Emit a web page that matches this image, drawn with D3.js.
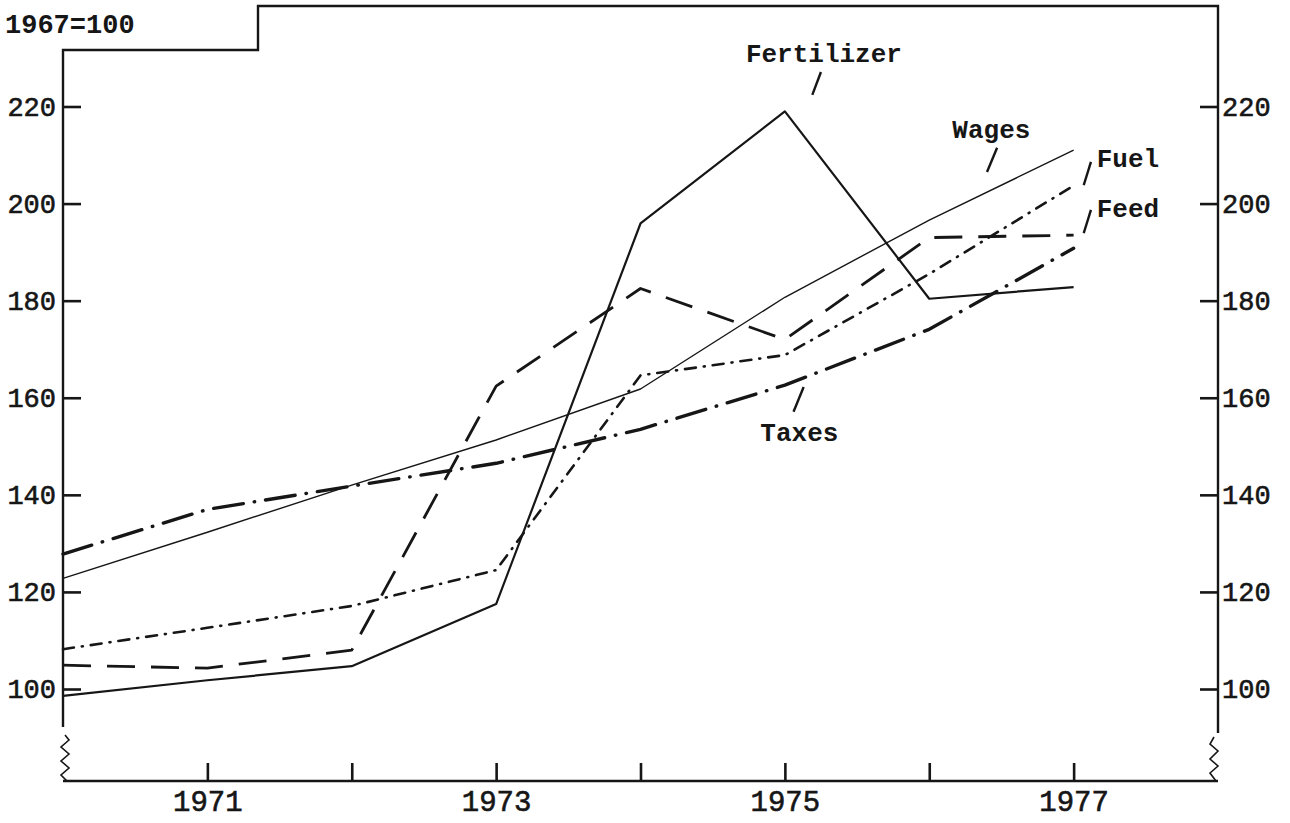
<!DOCTYPE html>
<html>
<head>
<meta charset="utf-8">
<script src="https://cdn.jsdelivr.net/npm/d3@7"></script>
<style>
  html, body { margin: 0; padding: 0; background: #fff; }
  svg { display: block; }
</style>
</head>
<body>
<div id="chart"></div>
<script>
// index numbers, 1967=100
const years = [1970, 1971, 1972, 1973, 1974, 1975, 1976, 1977];
const fertilizer = [98.6, 101.8, 104.7, 117.5, 195.9, 219.0, 180.4, 182.8];
const wages = [122.8, 132.3, 142.0, 151.3, 161.8, 180.7, 196.6, 211.0];
const fuel = [108.2, 112.6, 117.1, 124.5, 164.6, 168.8, 185.5, 203.7];
const feed = [104.9, 104.3, 108.0, 162.4, 182.5, 172.0, 193.0, 193.5];
const taxes = [127.8, 137.0, 141.8, 146.5, 153.5, 162.6, 174.1, 190.8];

const yTicks = [100, 120, 140, 160, 180, 200, 220];
const xTicks = [1971, 1972, 1973, 1974, 1975, 1976, 1977];
const xLabelled = [1971, 1973, 1975, 1977];

// label text position and leader slash, in data units
const labels = [
  { name: "Fertilizer", x: 1974.73, y: 229.2, from: [1975.25, 227.1], to: [1975.19, 222.4] },
  { name: "Wages", x: 1976.16, y: 213.5, from: [1976.47, 211.5], to: [1976.40, 206.5] },
  { name: "Fuel", x: 1977.16, y: 207.5, from: [1977.12, 208.6], to: [1977.07, 203.8] },
  { name: "Feed", x: 1977.16, y: 197.2, from: [1977.12, 198.7], to: [1977.07, 193.9] },
  { name: "Taxes", x: 1974.83, y: 151.1, from: [1975.13, 162.2], to: [1975.06, 157.1] }
];

const width = 1290, height = 823;
const plotL = 63, plotR = 1218, axisY = 781, plotT = 6;
const font = "'Liberation Mono', 'Courier New', monospace";
const ink = "#161616";

const x = d3.scaleLinear().domain([1970, 1978]).range([plotL, plotR]);
const y = d3.scaleLinear().domain([100, 220]).range([689, 106.5]);

const svg = d3.select("#chart").append("svg")
  .attr("width", width)
  .attr("height", height);

// frame with the stepped top
const frame = svg.append("g")
  .attr("fill", "none")
  .attr("stroke", ink)
  .attr("stroke-width", 2.4);

frame.append("path")
  .attr("d", `M${plotL},727 V50 H258 V${plotT} H${plotR} V733`);
frame.append("line")
  .attr("x1", plotL).attr("x2", plotR)
  .attr("y1", axisY).attr("y2", axisY);

// axis breaks
const zig = d3.line();
frame.append("path")
  .attr("stroke-width", 1.6)
  .attr("d", zig([[plotL + 2, 735], [plotL + 6, 740], [plotL - 2, 747], [plotL + 6, 754], [plotL - 2, 761], [plotL + 6, 768], [plotL - 2, 775], [plotL + 4, 781]]));
frame.append("path")
  .attr("stroke-width", 1.6)
  .attr("d", zig([[plotR - 4, 737], [plotR - 8, 744], [plotR + 0, 751], [plotR - 8, 759], [plotR + 0, 766], [plotR - 8, 773], [plotR - 2, 781]]));

// axes, ticks pointing inward
const styleAxis = size => g => {
  g.select(".domain").remove();
  g.selectAll(".tick line").attr("stroke", ink).attr("stroke-width", 2.6);
  g.selectAll(".tick text")
    .attr("fill", ink)
    .attr("stroke", ink)
    .attr("stroke-width", 0.6)
    .attr("font-family", font)
    .attr("font-size", size);
};

svg.append("g")
  .attr("transform", `translate(${plotL},0)`)
  .call(d3.axisLeft(y).tickValues(yTicks).tickSize(-18).tickPadding(7).tickFormat(d3.format("d")))
  .call(styleAxis(27));

svg.append("g")
  .attr("transform", `translate(${plotR},0)`)
  .call(d3.axisRight(y).tickValues(yTicks).tickSize(-18).tickPadding(4).tickFormat(d3.format("d")))
  .call(styleAxis(27));

svg.append("g")
  .attr("transform", `translate(0,${axisY})`)
  .call(d3.axisBottom(x).tickValues(xTicks).tickSize(-18).tickPadding(9)
    .tickFormat(d => xLabelled.includes(d) ? String(d) : ""))
  .call(styleAxis(29));

svg.append("text")
  .attr("x", 5).attr("y", 33)
  .attr("font-family", font)
  .attr("font-size", 27)
  .attr("font-weight", "bold")
  .attr("fill", ink)
  .text("1967=100");

// series
const series = [
  { values: fertilizer, width: 2.2, dash: null, cap: "butt" },
  { values: wages, width: 1.4, dash: null, cap: "butt" },
  { values: fuel, width: 2.6, dash: "11,8,1,8", cap: "round" },
  { values: feed, width: 2.8, dash: "28,16", cap: "butt" },
  { values: taxes, width: 3.4, dash: "30,11,0.5,11", cap: "round" }
];

const line = d3.line()
  .x((d, i) => x(years[i]))
  .y(d => y(d));

svg.append("g")
  .selectAll("path")
  .data(series)
  .join("path")
  .attr("fill", "none")
  .attr("stroke", ink)
  .attr("stroke-width", d => d.width)
  .attr("stroke-dasharray", d => d.dash)
  .attr("stroke-linecap", d => d.cap)
  .attr("stroke-linejoin", "round")
  .attr("d", d => line(d.values));

// labels with leader slashes
const ann = svg.append("g");
ann.selectAll("text")
  .data(labels)
  .join("text")
  .attr("x", d => x(d.x))
  .attr("y", d => y(d.y))
  .attr("font-family", font)
  .attr("font-size", 26)
  .attr("font-weight", "bold")
  .attr("fill", ink)
  .text(d => d.name);

ann.selectAll("line")
  .data(labels)
  .join("line")
  .attr("x1", d => x(d.from[0]))
  .attr("y1", d => y(d.from[1]))
  .attr("x2", d => x(d.to[0]))
  .attr("y2", d => y(d.to[1]))
  .attr("stroke", ink)
  .attr("stroke-width", 2.4);
</script>
</body>
</html>
